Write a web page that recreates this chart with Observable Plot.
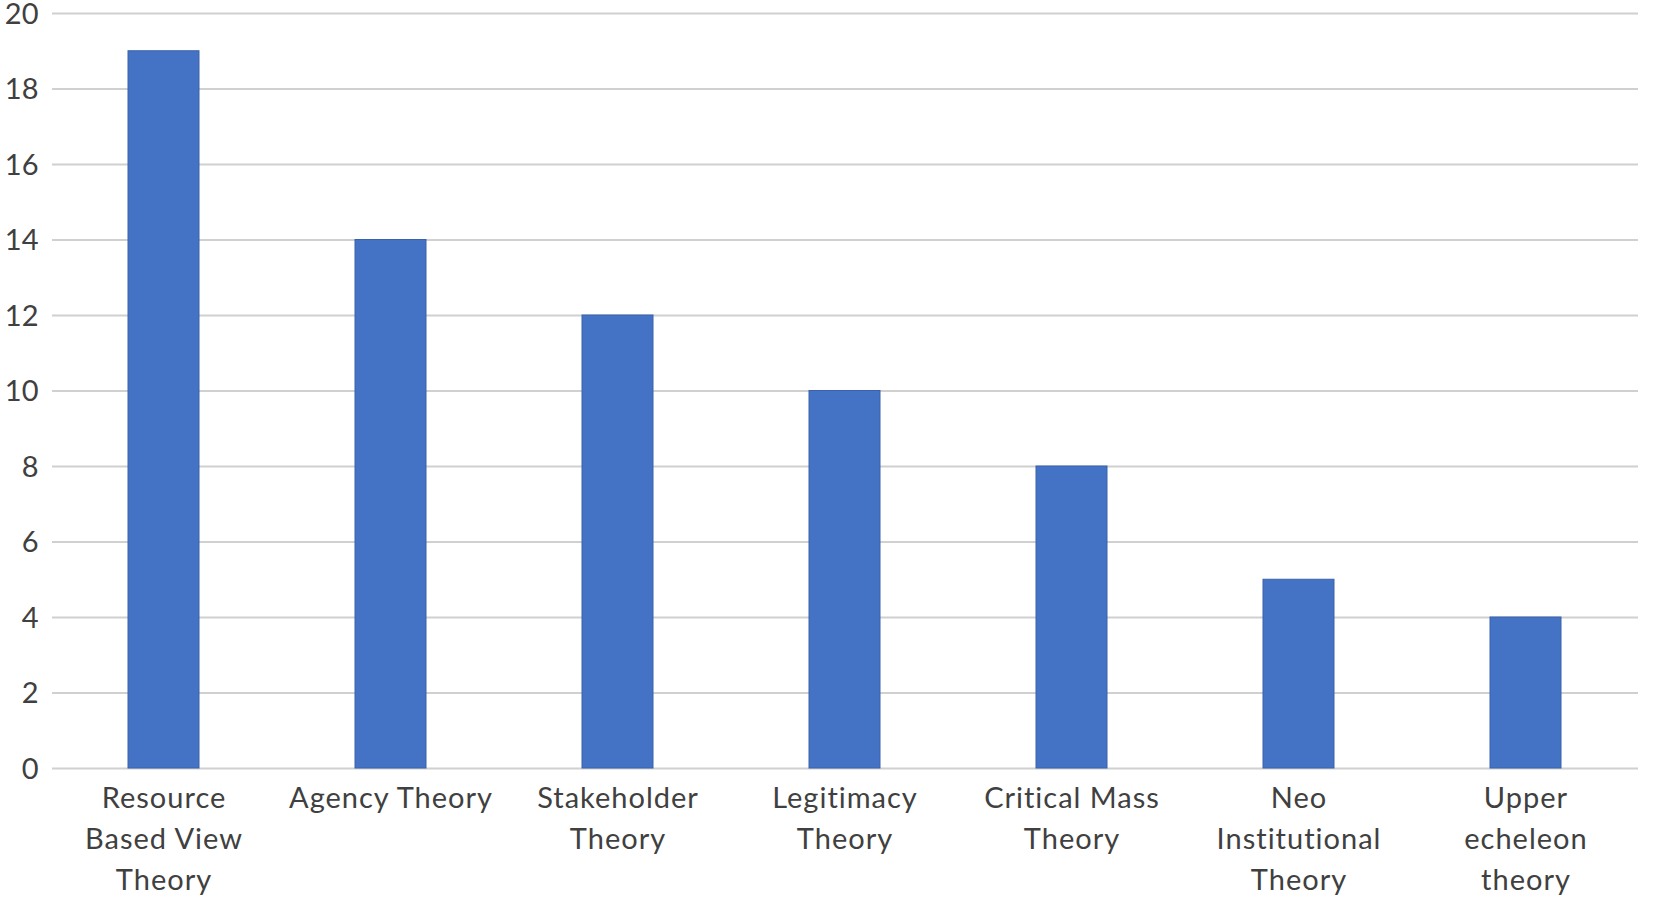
<!DOCTYPE html>
<html>
<head>
<meta charset="utf-8">
<script src="https://cdn.jsdelivr.net/npm/d3@7"></script>
<script src="https://cdn.jsdelivr.net/npm/@observablehq/plot@0.6"></script>
<style>
  html, body { margin: 0; padding: 0; background: #fff; }
  #chart { width: 1665px; height: 909px; }
  #chart g[aria-label="x-axis tick label"] text { letter-spacing: 1px; }
</style>
</head>
<body>
<div id="chart"></div>
<script>
const categories = [
  "Resource Based View Theory",
  "Agency Theory",
  "Stakeholder Theory",
  "Legitimacy Theory",
  "Critical Mass Theory",
  "Neo Institutional Theory",
  "Upper echeleon theory"
];
const categoryLabels = [
  "Resource\nBased View\nTheory",
  "Agency Theory",
  "Stakeholder\nTheory",
  "Legitimacy\nTheory",
  "Critical Mass\nTheory",
  "Neo\nInstitutional\nTheory",
  "Upper\necheleon\ntheory"
];
const values = [19, 14, 12, 10, 8, 5, 4];
const yTicks = [0, 2, 4, 6, 8, 10, 12, 14, 16, 18, 20];

const data = categories.map((c, i) => ({category: c, value: values[i]}));
const labelOf = new Map(categories.map((c, i) => [c, categoryLabels[i]]));

const chart = Plot.plot({
  width: 1665,
  height: 909,
  marginLeft: 52,
  marginRight: 27,
  marginTop: 13,
  marginBottom: 141,
  style: {fontFamily: "Lato, 'Open Sans', sans-serif", color: "#595959", background: "#fff"},
  x: {domain: categories, paddingInner: 0.687, paddingOuter: 0.33, label: null},
  y: {domain: [0, 20], label: null},
  marks: [
    Plot.ruleY(yTicks, {stroke: "#d0d0d0", strokeWidth: 2, strokeOpacity: 1}),
    Plot.barY(data, {x: "category", y: "value", fill: "#4472C4", stroke: "#3A62AB", strokeWidth: 1}),
    Plot.axisY({ticks: yTicks, tickSize: 0, tickPadding: 14, fontSize: 29, dy: 1, fill: "#404040", label: null}),
    Plot.axisX({tickSize: 0, tickPadding: 10, fontSize: 29, lineHeight: 1.42, fill: "#404040",
      tickFormat: d => labelOf.get(d), label: null})
  ]
});
document.getElementById("chart").appendChild(chart);
</script>
</body>
</html>
